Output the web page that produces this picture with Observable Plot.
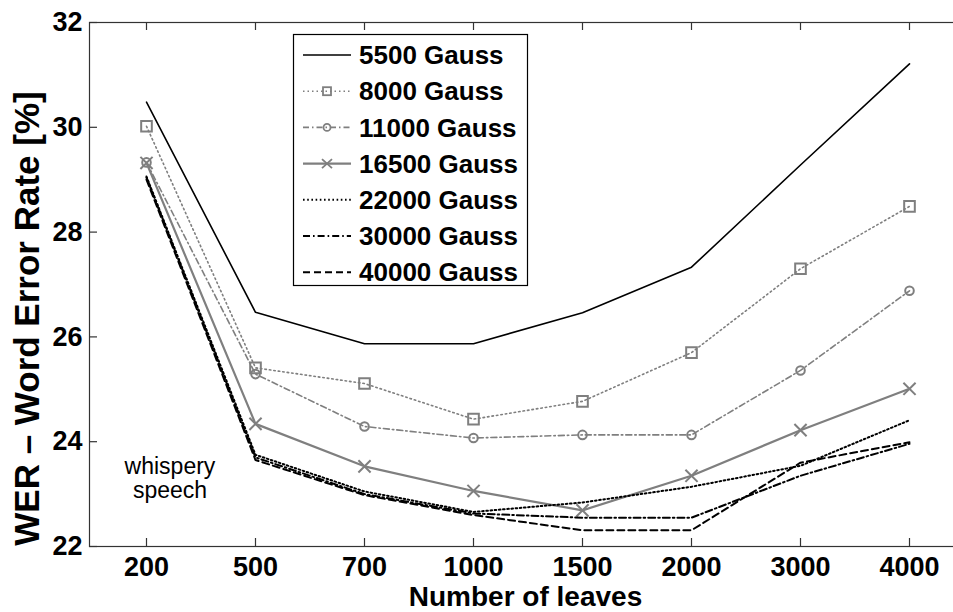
<!DOCTYPE html>
<html><head><meta charset="utf-8">
<script src="https://cdn.jsdelivr.net/npm/d3@7"></script>
<script src="https://cdn.jsdelivr.net/npm/@observablehq/plot@0.6"></script>
<style>
html,body{margin:0;padding:0;background:#fff;overflow:hidden;}
#wrap{position:relative;width:953px;height:612px;overflow:hidden;}
#wrap svg{display:block;}
#overlay{position:absolute;left:0;top:0;}
</style></head><body><div id="wrap"></div>
<script>
// ---- data ----
const leaves = ["200", "500", "700", "1000", "1500", "2000", "3000", "4000"];
const yTicks = [22, 24, 26, 28, 30, 32];
const seriesNames = ["5500 Gauss", "8000 Gauss", "11000 Gauss", "16500 Gauss", "22000 Gauss", "30000 Gauss", "40000 Gauss"];
const g5500  = [30.48, 26.47, 25.87, 25.87, 26.46, 27.33, 29.28, 31.21];
const g8000  = [30.02, 25.41, 25.11, 24.43, 24.77, 25.70, 27.30, 28.49];
const g11000 = [29.33, 25.29, 24.29, 24.07, 24.13, 24.13, 25.36, 26.88];
const g16500 = [29.32, 24.34, 23.53, 23.06, 22.69, 23.35, 24.22, 25.01];
const g22000 = [29.06, 23.75, 23.05, 22.66, 22.84, 23.14, 23.54, 24.41];
const g30000 = [29.04, 23.70, 23.00, 22.63, 22.55, 22.55, 23.35, 23.96];
const g40000 = [29.00, 23.65, 22.98, 22.60, 22.31, 22.31, 23.60, 23.99];
const seriesValues = [g5500, g8000, g11000, g16500, g22000, g30000, g40000];
const annotation = ["whispery", "speech"];
const xTitle = "Number of leaves";
const yTitle = "WER \u2013 Word Error Rate [%]";

// ---- styles ----
const GRAY = "#7f7f7f";
const styles = [
  {stroke: "#000", dash: null, width: 1.6, symbol: null},
  {stroke: GRAY, dash: "1.5,3", width: 1.6, symbol: "square", r: 6},
  {stroke: GRAY, dash: "6,3,1.5,3", width: 1.6, symbol: "circle", r: 4.3},
  {stroke: GRAY, dash: null, width: 2.2, symbol: "times", r: 5.6},
  {stroke: "#000", dash: "1.6,2.6", width: 2, symbol: null},
  {stroke: "#000", dash: "7,3,1.6,3", width: 2, symbol: null},
  {stroke: "#000", dash: "7,4", width: 2, symbol: null}
];

const W = 953, H = 612, ML = 89, MT = 22, MB = 66, MR = -14;
const frameW = W - ML - MR, frameH = H - MT - MB;

const rows = [];
seriesNames.forEach((name, i) => seriesValues[i].forEach((v, j) => rows.push({series: name, leaves: leaves[j], wer: v})));

const marks = [];
seriesNames.forEach((name, i) => {
  const s = styles[i];
  const data = rows.filter(d => d.series === name);
  marks.push(Plot.line(data, {x: "leaves", y: "wer", stroke: s.stroke, strokeWidth: s.width, strokeDasharray: s.dash, strokeLinejoin: "miter"}));
  if (s.symbol) marks.push(Plot.dot(data, {x: "leaves", y: "wer", symbol: s.symbol, r: s.r, stroke: s.stroke, strokeWidth: 2, fill: "none"}));
});

const chart = Plot.plot({
  width: W, height: H,
  marginLeft: ML, marginTop: MT, marginBottom: MB, marginRight: MR,
  style: {fontFamily: "'Liberation Sans', Arial, sans-serif", fontWeight: "bold", fontSize: "27px", color: "#000", background: "#fff", overflow: "hidden"},
  x: {type: "point", domain: leaves, range: [143.3, 911.7], padding: 0},
  y: {domain: [22, 32]},
  marks: [
    Plot.frame({stroke: "#333", strokeWidth: 1.2}),
    Plot.ruleY(yTicks, {y: d => d, insetRight: frameW - 8, stroke: "#333", strokeWidth: 1.2}),
    Plot.ruleX(leaves, {x: d => d, insetBottom: frameH - 8, stroke: "#333", strokeWidth: 1.2}),
    Plot.ruleX(leaves, {x: d => d, insetTop: frameH - 8, stroke: "#333", strokeWidth: 1.2}),
    Plot.axisX({ticks: leaves, tickSize: 0, tickPadding: 10, fontSize: 27, label: null}),
    Plot.axisY({ticks: yTicks, tickSize: 0, tickPadding: 7, fontSize: 27, label: null}),
    ...marks,
    Plot.text([yTitle], {text: d => d, frameAnchor: "left", textAnchor: "middle", lineAnchor: "middle", rotate: -90, dx: -62, dy: 34, fontSize: 35, fontWeight: "bold"}),
    Plot.text([xTitle], {text: d => d, frameAnchor: "bottom", textAnchor: "middle", lineAnchor: "middle", dx: -3, dy: 51, fontSize: 28, fontWeight: "bold"})
  ]
});
const wrap = document.getElementById("wrap");
wrap.appendChild(chart);

// ---- legend & annotation overlay ----
const ov = d3.select(wrap).append("svg").attr("id", "overlay").attr("width", W).attr("height", H)
  .style("font-family", "'Liberation Sans', Arial, sans-serif");
const lg = ov.append("g");
lg.append("rect").attr("x", 293.5).attr("y", 34.5).attr("width", 234).attr("height", 251)
  .attr("fill", "#fff").attr("stroke", "#000").attr("stroke-width", 1.2);
seriesNames.forEach((name, i) => {
  const s = styles[i];
  const y = 55 + i * 36.2;
  lg.append("line").attr("x1", 303).attr("x2", 351).attr("y1", y).attr("y2", y)
    .attr("stroke", s.stroke).attr("stroke-width", s.width).attr("stroke-dasharray", s.dash);
  if (s.symbol === "square") lg.append("rect").attr("x", 323).attr("y", y - 4).attr("width", 8).attr("height", 8).attr("fill", "none").attr("stroke", s.stroke).attr("stroke-width", 1.8);
  if (s.symbol === "circle") lg.append("circle").attr("cx", 327).attr("cy", y).attr("r", 3.5).attr("fill", "none").attr("stroke", s.stroke).attr("stroke-width", 1.8);
  if (s.symbol === "times") lg.append("path").attr("d", `M${322},${y-4.5}L${332},${y+4.5}M${322},${y+4.5}L${332},${y-4.5}`).attr("stroke", s.stroke).attr("stroke-width", 1.8);
  lg.append("text").attr("x", 359).attr("y", y).attr("dy", "0.35em").attr("font-size", 26).attr("font-weight", "bold").text(name);
});
annotation.forEach((t, i) => {
  ov.append("text").attr("x", 170).attr("y", 474 + i * 24).attr("text-anchor", "middle").attr("font-size", 23).text(t);
});
</script></body></html>
